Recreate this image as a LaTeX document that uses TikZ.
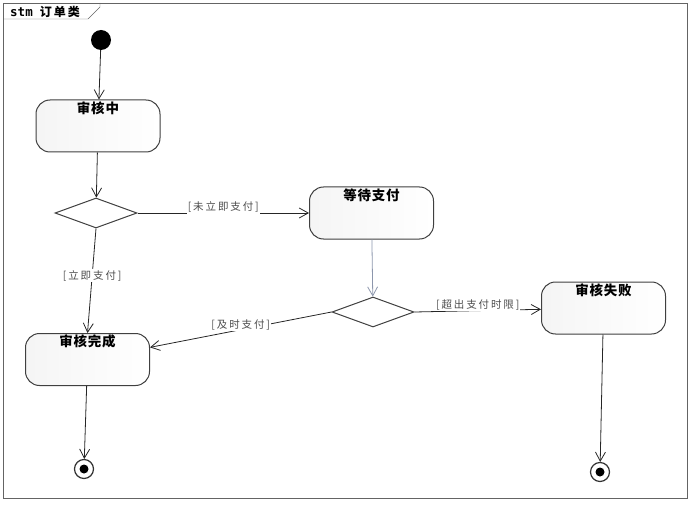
\documentclass[tikz,border=0pt]{standalone}
\usepackage{fontspec}
\setmainfont{Noto Sans CJK SC}
\newfontfamily\stmfont{DejaVu Sans Mono}
\newfontfamily\guardfont[LetterSpace=18]{Noto Sans CJK SC}
\newfontfamily\namefont[LetterSpace=6]{Noto Sans CJK SC}
\usetikzlibrary{arrows.meta,shapes.geometric}
\definecolor{framegray}{RGB}{100,100,100}
\definecolor{flowblue}{RGB}{140,150,172}
\begin{document}
\begin{tikzpicture}[x=1pt,y=-1pt,
    state/.style={draw=black!75,line width=1pt,rounded corners=14pt,left color=black!4,right color=white,
        minimum width=124pt,minimum height=52pt,inner sep=0pt},
    statename/.style={anchor=north,inner sep=2pt,font=\namefont\fontsize{13.5}{15}\selectfont\bfseries},
    choice/.style={draw=black!75,line width=1pt,diamond,aspect=2.7,minimum width=82pt,minimum height=30pt,
        inner sep=0pt,fill=white},
    initial/.style={circle,fill=black,minimum size=20pt,inner sep=0pt},
    final/.style={circle,draw=black!80,line width=1.2pt,fill=white,minimum size=19pt,inner sep=0pt},
    trans/.style={draw=black!85,line width=0.8pt,-{Straight Barb[length=9pt,width=10pt]}},
    guard/.style={font=\guardfont\fontsize{10.5}{12}\selectfont,text=black!70,fill=white,inner sep=1pt}]
    \useasboundingbox (0,0) rectangle (693,505);
    %% frame
    \draw[framegray] (3,3) rectangle (687,498);
    \draw[framegray] (3,19) -- (88,19) -- (100,7) -- (100,3);
    \node[anchor=west,inner sep=0pt,font=\fontsize{12}{14}\selectfont\bfseries] (stm) at (10,12)
        {{\stmfont\fontsize{12.5}{14}\selectfont stm}\hspace{7pt}订\,单\,类};
    %% states
    \node[initial] (init) at (101,40) {};
    \node[state,label={[statename]north:审核中}] (s1) at (98,126) {};
    \node[choice] (d1) at (96,213) {};
    \node[state,label={[statename]north:等待支付}] (s2) at (371.5,213) {};
    \node[choice] (d2) at (373,312) {};
    \node[state,label={[statename]north:审核完成}] (s3) at (87.5,359.5) {};
    \node[state,label={[statename]north:审核失败}] (s4) at (603.5,308) {};
    \node[final] (f1) at (84,469) {};
    \node[final] (f2) at (600,472) {};
    \fill[black] (f1.center) circle (4.5pt);
    \fill[black] (f2.center) circle (4.5pt);
    %% transitions
    \draw[trans] (init) -- (s1);
    \draw[trans] (s1) -- (d1);
    \draw[trans] (d1.east) -- node[guard,above=-1pt] {[未立即支付]} (s2);
    \draw[trans,draw=flowblue] (s2) -- (d2);
    \draw[trans] (d1.south) -- node[guard,pos=0.45] {[立即支付]} (s3.north);
    \draw[trans] (d2.west) -- node[guard,pos=0.5,yshift=5pt] {[及时支付]} (s3);
    \draw[trans] (d2.east) -- node[guard,above=-1pt] {[超出支付时限]} (s4);
    \draw[trans] (s3) -- (f1);
    \draw[trans] (s4) -- (f2);
\end{tikzpicture}
\end{document}
